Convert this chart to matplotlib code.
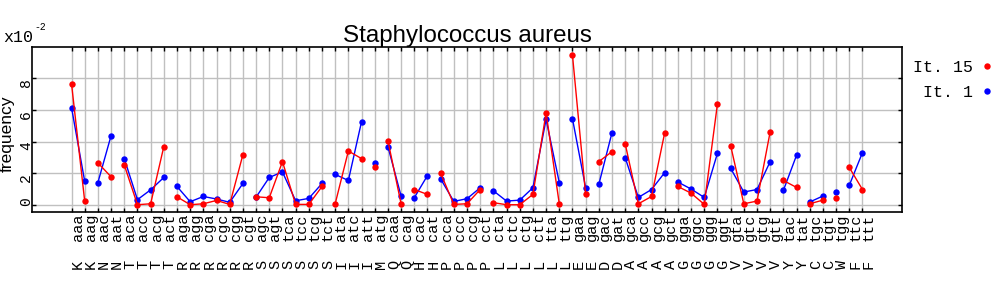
import matplotlib
matplotlib.use('Agg')
from matplotlib import pyplot as plt
from matplotlib.lines import Line2D
import numpy as np

# amino acid / codon for each position on the x axis
amino = ['K', 'K', 'N', 'N', 'T', 'T', 'T', 'T',
         'R', 'R', 'R', 'R', 'R', 'R', 'S', 'S', 'S', 'S', 'S', 'S',
         'I', 'I', 'I', 'M', 'Q', 'Q', 'H', 'H', 'P', 'P', 'P', 'P',
         'L', 'L', 'L', 'L', 'L', 'L', 'E', 'E', 'D', 'D',
         'A', 'A', 'A', 'A', 'G', 'G', 'G', 'G', 'V', 'V', 'V', 'V',
         'Y', 'Y', 'C', 'C', 'W', 'F', 'F']
codons = ['aaa', 'aag', 'aac', 'aat', 'aca', 'acc', 'acg', 'act',
          'aga', 'agg', 'cga', 'cgc', 'cgg', 'cgt', 'agc', 'agt', 'tca', 'tcc', 'tcg', 'tct',
          'ata', 'atc', 'att', 'atg', 'caa', 'cag', 'cac', 'cat', 'cca', 'ccc', 'ccg', 'cct',
          'cta', 'ctc', 'ctg', 'ctt', 'tta', 'ttg', 'gaa', 'gag', 'gac', 'gat',
          'gca', 'gcc', 'gcg', 'gct', 'gga', 'ggc', 'ggg', 'ggt', 'gta', 'gtc', 'gtg', 'gtt',
          'tac', 'tat', 'tgc', 'tgt', 'tgg', 'ttc', 'ttt']

# frequencies in units of 1e-2
it15 = [7.64, 0.23, 2.66, 1.78, 2.53, 0.02, 0.08, 3.69,
        0.52, 0.02, 0.08, 0.29, 0.04, 3.18, 0.52, 0.46, 2.74, 0.04, 0.04, 1.17,
        0.08, 3.41, 2.93, 2.43, 4.06, 0.08, 0.98, 0.67, 2.01, 0.04, 0.08, 0.98,
        0.15, 0.02, 0.02, 0.67, 5.82, 0.08, 9.47, 0.67, 2.74, 3.37,
        3.87, 0.08, 0.54, 4.57, 1.17, 0.75, 0.04, 6.39, 3.75, 0.08, 0.25, 4.63,
        1.55, 1.11, 0.08, 0.31, 0.42, 2.37, 0.98]
it1 = [6.14, 1.49, 1.42, 4.38, 2.93, 0.34, 0.96, 1.74,
       1.17, 0.21, 0.54, 0.38, 0.17, 1.36, 0.50, 1.74, 2.09, 0.27, 0.42, 1.36,
       1.93, 1.55, 5.26, 2.64, 3.69, 0.57, 0.46, 1.86, 1.65, 0.23, 0.40, 1.09,
       0.90, 0.25, 0.31, 1.09, 5.40, 1.42, 5.45, 1.09, 1.30, 4.57,
       2.99, 0.48, 0.98, 2.05, 1.45, 1.01, 0.48, 3.27, 2.32, 0.82, 0.98, 2.74,
       0.92, 3.14, 0.19, 0.57, 0.80, 1.24, 3.31]

yticks = [0, 2, 4, 6, 8]

mono = 'Liberation Mono'
sans = 'Liberation Sans'

fig = plt.figure(figsize=(10, 3), dpi=100)
ax = fig.add_axes([0.032, 0.2933, 0.870, 0.5494])

x = np.arange(len(codons))
f15 = np.array(it15) * 1e-2
f1 = np.array(it1) * 1e-2

# one line per amino acid, broken between groups
bounds = [0] + [i for i in range(1, len(amino)) if amino[i] != amino[i - 1]] + [len(amino)]
for series, col in [(f1, '#0000ff'), (f15, '#ff0000')]:
    for a, b in zip(bounds[:-1], bounds[1:]):
        ax.plot(x[a:b], series[a:b], color=col, lw=1.0, marker='o', ms=4.6,
                markeredgewidth=0)

ax.set_xlim(-3, len(codons) + 2)
ax.set_ylim(-0.0044, 0.0996)

ax.set_xticks(x)
ax.set_xticklabels([])
ax.set_yticks(np.array(yticks) * 1e-2)
ax.set_yticklabels([])
ax.tick_params(direction='in', length=3, width=1, top=True, right=True,
               color='black')
ax.grid(True, color='#c0c0c0', lw=1.0)
ax.set_axisbelow(True)
for spine in ax.spines.values():
    spine.set_linewidth(1.2)

# codon labels, drawn with the codon next to the axis and the amino acid below
for i in x:
    ax.annotate(codons[i], xy=(i, 0), xycoords=('data', 'axes fraction'),
                xytext=(4.3, -1.2), textcoords='offset points', rotation=90,
                ha='center', va='top', fontsize=11, family=mono)
    ax.annotate(amino[i], xy=(i, 0), xycoords=('data', 'axes fraction'),
                xytext=(4.3, -37.4), textcoords='offset points', rotation=90,
                ha='center', va='center', fontsize=11, family=mono)

for v in yticks:
    ax.annotate(str(v), xy=(0, v * 1e-2), xycoords=('axes fraction', 'data'),
                xytext=(-4.4, 2.2 if v == 0 else -3.2), textcoords='offset points',
                rotation=90, ha='center', va='center', fontsize=10.5, family=mono)

fig.text(0.003, 0.875, 'x10', fontsize=12, family=mono, ha='left', va='center')
fig.text(0.034, 0.91, '-2', fontsize=7, family=mono, ha='left', va='center')

fig.text(0.0, 0.553, 'frequency', rotation=90, fontsize=12.5, family=sans,
         ha='left', va='center')

ax.set_title('Staphylococcus aureus', fontsize=17.4, family=sans, pad=3)

handles = [Line2D([], [], color='#ff0000', marker='o', ms=4.6, ls='none', markeredgewidth=0),
           Line2D([], [], color='#0000ff', marker='o', ms=4.6, ls='none', markeredgewidth=0)]
fig.legend(handles, ['It. 15', ' It. 1'], loc='upper right',
           bbox_to_anchor=(0.994, 0.80), frameon=False, markerfirst=False,
           prop={'family': mono, 'size': 12}, handlelength=0.8,
           handletextpad=0.45, borderpad=0, borderaxespad=0, labelspacing=0.62)

fig.savefig('out.png', dpi=100)
